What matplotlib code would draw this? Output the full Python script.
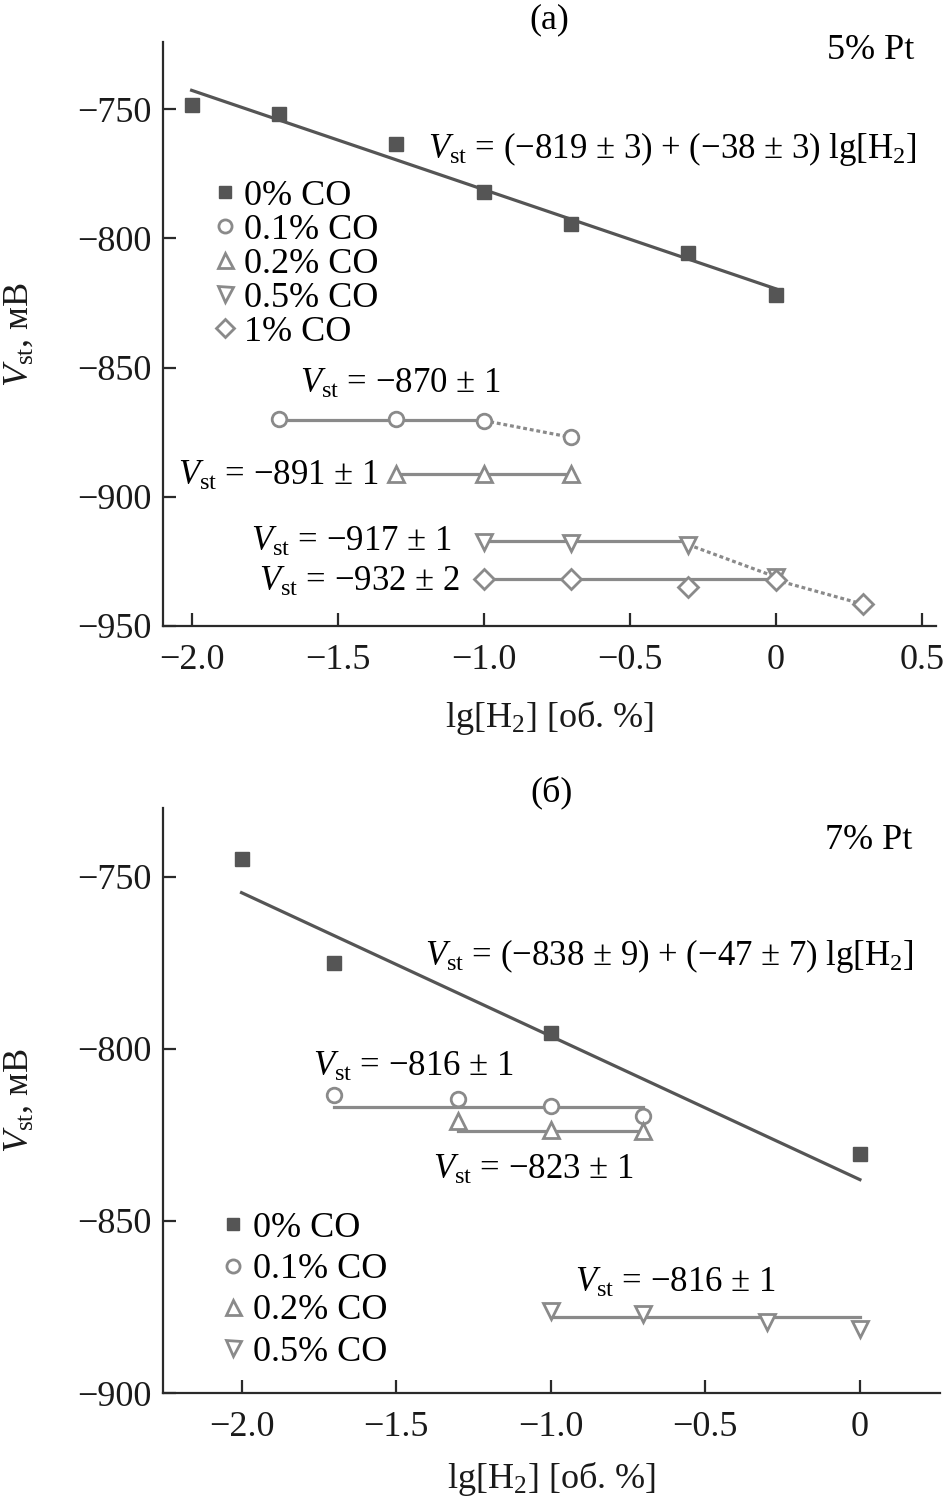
import matplotlib
matplotlib.use("Agg")
import matplotlib.pyplot as plt
from matplotlib.ticker import FixedLocator, FixedFormatter

plt.rcParams['font.family'] = ['Liberation Serif', 'DejaVu Serif']
plt.rcParams['mathtext.fontset'] = 'custom'
plt.rcParams['mathtext.rm'] = 'Liberation Serif'
plt.rcParams['mathtext.it'] = 'Liberation Serif:italic'

# ---------------- data: panel (a), 5% Pt ----------------
a_x0 = [-2.0, -1.7, -1.3, -1.0, -0.7, -0.3, 0.0]
a_y0 = [-748.5, -752.0, -763.4, -782.2, -794.6, -805.7, -821.8]
a_fit_x = [-2.0, 0.0]
a_fit_y = [-742.7, -819.5]

a_x01 = [-1.7, -1.3, -1.0, -0.7]
a_y01 = [-870.0, -870.0, -870.5, -877.0]
a_fit01_x = [-1.7, -1.0]
a_fit01_y = [-870.3, -870.3]

a_x02 = [-1.3, -1.0, -0.7]
a_y02 = [-891.0, -891.0, -891.0]
a_fit02_x = [-1.3, -0.7]
a_fit02_y = [-891.0, -891.0]

a_x05 = [-1.0, -0.7, -0.3, 0.0]
a_y05 = [-917.5, -918.0, -918.5, -931.0]
a_fit05_x = [-1.0, -0.3]
a_fit05_y = [-917.0, -917.0]

a_x1 = [-1.0, -0.7, -0.3, 0.0, 0.3]
a_y1 = [-931.7, -932.0, -934.8, -932.2, -941.6]
a_fit1_x = [-1.0, 0.0]
a_fit1_y = [-932.0, -932.0]

a_xticks = [-2.0, -1.5, -1.0, -0.5, 0.0, 0.5]
a_xticklabels = ['−2.0', '−1.5', '−1.0', '−0.5', '0', '0.5']
a_yticks = [-750, -800, -850, -900, -950]
a_yticklabels = ['−750', '−800', '−850', '−900', '−950']

# ---------------- data: panel (б), 7% Pt ----------------
b_x0 = [-2.0, -1.7, -1.0, 0.0]
b_y0 = [-744.7, -775.0, -795.3, -830.6]
b_fit_x = [-2.0, 0.0]
b_fit_y = [-754.6, -838.0]

b_x01 = [-1.7, -1.3, -1.0, -0.7]
b_y01 = [-813.5, -814.5, -816.7, -819.4]
b_fit01_x = [-1.7, -0.7]
b_fit01_y = [-817.0, -817.0]

b_x02 = [-1.3, -1.0, -0.7]
b_y02 = [-821.0, -823.5, -824.0]
b_fit02_x = [-1.3, -0.7]
b_fit02_y = [-824.0, -824.0]

b_x05 = [-1.0, -0.7, -0.3, 0.0]
b_y05 = [-876.1, -877.1, -879.3, -881.5]
b_fit05_x = [-1.0, 0.0]
b_fit05_y = [-878.0, -878.0]

b_xticks = [-2.0, -1.5, -1.0, -0.5, 0.0]
b_xticklabels = ['−2.0', '−1.5', '−1.0', '−0.5', '0']
b_yticks = [-750, -800, -850, -900]
b_yticklabels = ['−750', '−800', '−850', '−900']

labels = ['0% CO', '0.1% CO', '0.2% CO', '0.5% CO', '1% CO']

# ---------------- styles ----------------
DARK = '#555555'
GRAY = '#8a8a8a'
SPINE = '#2a2a2a'
FS = 26
FS_ANN = 25
FS_LEG = 26
LW_LINE = 2.3
DOT = (0, (1.2, 0.9))

sq = dict(marker='s', ms=10, color=DARK, mec=DARK, ls='none')
op = dict(ls='none', mfc='white', mec=GRAY, mew=2.0)
mk = {'o': 10.5, '^': 12, 'v': 12, 'D': 10}

fig = plt.figure(figsize=(9.48, 15.12), dpi=100)
axA = fig.add_axes([163/948, 1-626/1512, 773/948, 584/1512])
axB = fig.add_axes([163/948, 1-1393/1512, 777/948, 585/1512])


def style(ax, xticks, xtl, yticks, ytl, xlim, ylim):
    ax.set_xlim(*xlim)
    ax.set_ylim(*ylim)
    for s in ['top', 'right']:
        ax.spines[s].set_visible(False)
    for s in ['left', 'bottom']:
        ax.spines[s].set_linewidth(1.6)
        ax.spines[s].set_color(SPINE)
    ax.xaxis.set_major_locator(FixedLocator(xticks))
    ax.xaxis.set_major_formatter(FixedFormatter(xtl))
    ax.yaxis.set_major_locator(FixedLocator(yticks))
    ax.yaxis.set_major_formatter(FixedFormatter(ytl))
    ax.tick_params(direction='in', length=9.5, width=1.6, color=SPINE,
                   labelsize=FS, labelcolor='#1a1a1a')
    ax.tick_params(axis='x', pad=13)
    ax.tick_params(axis='y', pad=8)
    ax.set_xlabel('lg[H$_2$] [об. %]', fontsize=FS, color='#1a1a1a')
    ax.set_ylabel(r'$V_{\mathrm{st}}$, мВ', fontsize=FS, color='#1a1a1a')


# ---------------- panel (a) ----------------
ax = axA
ax.plot(a_fit_x, a_fit_y, color=DARK, lw=LW_LINE, zorder=2)
ax.plot(a_fit01_x, a_fit01_y, color=GRAY, lw=LW_LINE, zorder=2)
ax.plot([a_x01[2], a_x01[3]], [a_y01[2], a_y01[3]], color=GRAY, lw=2.3, ls=DOT, zorder=2)
ax.plot(a_fit02_x, a_fit02_y, color=GRAY, lw=LW_LINE, zorder=2)
ax.plot(a_fit05_x, a_fit05_y, color=GRAY, lw=LW_LINE, zorder=2)
ax.plot([a_x05[2], a_x05[3]], [a_y05[2], a_y05[3]], color=GRAY, lw=2.3, ls=DOT, zorder=2)
ax.plot(a_fit1_x, a_fit1_y, color=GRAY, lw=LW_LINE, zorder=2)
ax.plot([a_x1[3], a_x1[4]], [a_y1[3], a_y1[4]], color=GRAY, lw=2.3, ls=DOT, zorder=2)

hA = []
hA.append(ax.plot(a_x0, a_y0, zorder=3, **sq)[0])
hA.append(ax.plot(a_x01, a_y01, marker='o', ms=mk['o'], zorder=3, **op)[0])
hA.append(ax.plot(a_x02, a_y02, marker='^', ms=mk['^'], zorder=3, **op)[0])
hA.append(ax.plot(a_x05, a_y05, marker='v', ms=mk['v'], zorder=3, **op)[0])
hA.append(ax.plot(a_x1, a_y1, marker='D', ms=mk['D'], zorder=3, **op)[0])

style(ax, a_xticks, a_xticklabels, a_yticks, a_yticklabels, (-2.098, 0.549), (-950, -724))
ax.xaxis.set_label_coords(0.5, -0.125)
ax.yaxis.set_label_coords(-0.164, 0.5)

ax.text(0.5, 1.038, '(а)', transform=ax.transAxes, ha='center', va='center', fontsize=FS)
ax.text(0.972, 0.986, '5% Pt', transform=ax.transAxes, ha='right', va='center', fontsize=FS)
ax.text(-1.19, -765.5, r'$V_{\mathrm{st}}$ = (−819 ± 3) + (−38 ± 3) lg[H$_2$]',
        ha='left', va='center', fontsize=FS_ANN)
ax.text(-1.629, -856.5, r'$V_{\mathrm{st}}$ = −870 ± 1', ha='left', va='center', fontsize=FS_ANN)
ax.text(-1.36, -892.0, r'$V_{\mathrm{st}}$ = −891 ± 1', ha='right', va='center', fontsize=FS_ANN)
ax.text(-1.11, -917.5, r'$V_{\mathrm{st}}$ = −917 ± 1', ha='right', va='center', fontsize=FS_ANN)
ax.text(-1.08, -933.0, r'$V_{\mathrm{st}}$ = −932 ± 2', ha='right', va='center', fontsize=FS_ANN)

ax.legend(hA, labels, loc='upper left', bbox_to_anchor=(0.061, 0.765),
          frameon=False, fontsize=FS_LEG, handlelength=0.8, handletextpad=0.15,
          labelspacing=0.02, borderaxespad=0, borderpad=0, markerscale=0.9)

# ---------------- panel (б) ----------------
ax = axB
ax.plot(b_fit_x, b_fit_y, color=DARK, lw=LW_LINE, zorder=2)
ax.plot(b_fit01_x, b_fit01_y, color=GRAY, lw=LW_LINE, zorder=2)
ax.plot(b_fit02_x, b_fit02_y, color=GRAY, lw=LW_LINE, zorder=2)
ax.plot(b_fit05_x, b_fit05_y, color=GRAY, lw=LW_LINE, zorder=2)

hB = []
hB.append(ax.plot(b_x0, b_y0, zorder=3, **sq)[0])
hB.append(ax.plot(b_x01, b_y01, marker='o', ms=mk['o'], zorder=3, **op)[0])
hB.append(ax.plot(b_x02, b_y02, marker='^', ms=mk['^'], zorder=3, **op)[0])
hB.append(ax.plot(b_x05, b_y05, marker='v', ms=mk['v'], zorder=3, **op)[0])

style(ax, b_xticks, b_xticklabels, b_yticks, b_yticklabels, (-2.254, 0.259), (-900, -730))
ax.xaxis.set_label_coords(0.5, -0.115)
ax.yaxis.set_label_coords(-0.164, 0.5)

ax.text(0.5, 1.026, '(б)', transform=ax.transAxes, ha='center', va='center', fontsize=FS)
ax.text(0.965, 0.945, '7% Pt', transform=ax.transAxes, ha='right', va='center', fontsize=FS)
ax.text(-1.407, -773.0, r'$V_{\mathrm{st}}$ = (−838 ± 9) + (−47 ± 7) lg[H$_2$]',
        ha='left', va='center', fontsize=FS_ANN)
ax.text(-1.769, -805.5, r'$V_{\mathrm{st}}$ = −816 ± 1', ha='left', va='center', fontsize=FS_ANN)
ax.text(-1.381, -835.3, r'$V_{\mathrm{st}}$ = −823 ± 1', ha='left', va='center', fontsize=FS_ANN)
ax.text(-0.922, -868.0, r'$V_{\mathrm{st}}$ = −816 ± 1', ha='left', va='center', fontsize=FS_ANN)

ax.legend(hB, labels[:4], loc='upper left', bbox_to_anchor=(0.0716, 0.31),
          frameon=False, fontsize=FS_LEG, handlelength=0.8, handletextpad=0.15,
          labelspacing=0.22, borderaxespad=0, borderpad=0, markerscale=0.9)

fig.savefig('out.png', dpi=100)
